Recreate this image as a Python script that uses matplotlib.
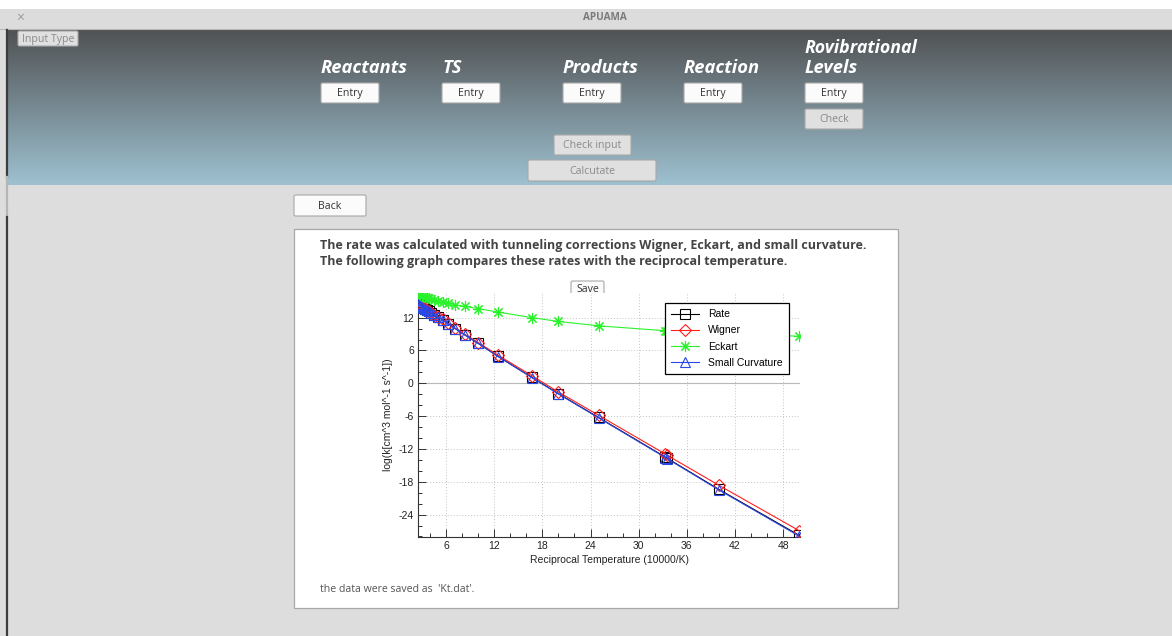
import numpy as np
import matplotlib
matplotlib.use('Agg')
from matplotlib import pyplot as plt
from matplotlib.patches import Rectangle, FancyBboxPatch
from matplotlib.ticker import MultipleLocator

# reciprocal temperature (10000/K)
recip_temp = [2.5, 2.63, 2.78, 2.94, 3.125, 3.33, 3.57, 3.85, 4.17, 4.55, 5.0, 5.56,
              6.25, 7.14, 8.33, 10.0, 12.5, 16.67, 20.0, 25.0, 33.33, 33.54, 40.0, 50.0]
# log k for each method
rate = [14.45, 14.3, 14.15, 14.0, 13.85, 13.65, 13.4, 13.15, 12.85, 12.5, 12.1, 11.6,
        10.9, 10.0, 8.85, 7.3, 4.9, 1.1, -1.9, -6.25, -13.5, -13.7, -19.4, -27.8]
wigner = [14.46, 14.31, 14.16, 14.01, 13.86, 13.66, 13.41, 13.16, 12.87, 12.52, 12.15, 11.66,
          10.97, 10.08, 8.95, 7.45, 5.1, 1.4, -1.6, -5.85, -12.95, -13.15, -18.65, -26.95]
eckart = [16.3, 16.2, 16.1, 16.0, 15.9, 15.8, 15.65, 15.5, 15.35, 15.2, 15.0, 14.8,
          14.6, 14.35, 14.05, 13.65, 13.0, 12.0, 11.3, 10.5, 9.6, 9.58, 9.1, 8.6]
small_curv = [14.44, 14.29, 14.14, 13.99, 13.84, 13.64, 13.39, 13.14, 12.84, 12.49, 12.09, 11.58,
              10.88, 9.98, 8.82, 7.27, 4.86, 1.05, -1.96, -6.32, -13.58, -13.78, -19.5, -27.95]

col_names = ['Reactants', 'TS', 'Products', 'Reaction', 'Levels']

plt.rcParams['axes.unicode_minus'] = False

W, H = 1172, 636
fig = plt.figure(figsize=(W / 100, H / 100), dpi=100)
fig.patch.set_facecolor('#dddddd')

# background "window" drawn in pixel coordinates
bg = fig.add_axes([0, 0, 1, 1], zorder=0)
bg.set_xlim(0, W)
bg.set_ylim(H, 0)
bg.axis('off')

GUI = ['Open Sans', 'DejaVu Sans']

bg.add_patch(Rectangle((0, 0), W, 9, color='white', lw=0))
bg.add_patch(Rectangle((0, 9), W, 20, color='#dcdcdc', lw=0))
bg.plot([0, W], [29, 29], color='#b8b8b8', lw=0.8)
bg.text(20, 18, '×', color='#9a9a9a', fontsize=10, ha='center', va='center', family=GUI)
bg.text(605, 18, 'APUAMA', color='#7a7a7a', fontsize=7.2, fontweight='bold',
        ha='center', va='center', family=GUI)

# header gradient
top = np.array([80, 82, 84]) / 255
bot = np.array([158, 193, 208]) / 255
t = np.linspace(0, 1, 200)[:, None]
grad = (top[None, :] * (1 - t) + bot[None, :] * t)[:, None, :]
bg.imshow(grad, extent=(8, W, 185, 30), aspect='auto', interpolation='bilinear')
bg.set_xlim(0, W)
bg.set_ylim(H, 0)

# left window edge
bg.plot([7, 7], [30, 177], color='#3c3c3c', lw=1.6)
bg.plot([7, 7], [177, 217], color='#b5b5b5', lw=1.6)
bg.plot([7, 7], [217, H], color='#3c3c3c', lw=1.6)


def button(x0, y0, x1, y1, label, enabled=True, fs=7.6):
    fc = '#fbfbfb' if enabled else '#e0e0e0'
    tc = '#333333' if enabled else '#8a8a8a'
    bg.add_patch(FancyBboxPatch((x0, y0), x1 - x0, y1 - y0,
                                boxstyle='round,pad=0,rounding_size=1.5',
                                fc=fc, ec='#a8a8a8', lw=0.8))
    bg.text((x0 + x1) / 2, (y0 + y1) / 2 + 0.8, label, color=tc, fontsize=fs,
            ha='center', va='center', family=GUI)


button(18, 31, 78, 46, 'Input Type', enabled=False)

col_x = [321, 442, 563, 684, 805]
for x, name in zip(col_x, col_names):
    bg.text(x, 73, name, color='white', fontsize=13.2, fontweight='bold', style='italic',
            ha='left', va='baseline', family=GUI)
    button(x, 83, x + 58, 103, 'Entry')
bg.text(805, 53, 'Rovibrational', color='white', fontsize=12.8, fontweight='bold',
        style='italic', ha='left', va='baseline', family=GUI)
button(805, 109, 863, 129, 'Check', enabled=False)
button(554, 135, 631, 155, 'Check input', enabled=False)
button(528, 160, 656, 181, 'Calcutate', enabled=False)

button(294, 195, 366, 216, 'Back')

# white result panel
bg.add_patch(Rectangle((294, 229), 604, 379, fc='white', ec='#a8a8a8', lw=0.9))
bg.text(320, 246, 'The rate was calculated with tunneling corrections Wigner, Eckart, and small curvature.',
        color='#444444', fontsize=9, fontweight='bold', va='center', family=GUI)
bg.text(320, 262, 'The following graph compares these rates with the reciprocal temperature.',
        color='#444444', fontsize=9, fontweight='bold', va='center', family=GUI)
button(571, 281, 604, 297, 'Save')
bg.text(320, 590, "the data were saved as  'Kt.dat'.", color='#555555', fontsize=7.6,
        va='center', family=GUI)

# the plot itself
PF = ['Liberation Sans', 'DejaVu Sans']
ax = fig.add_axes([418 / W, (H - 537) / H, 382 / W, 244 / H], zorder=1)
ax.set_facecolor('white')

ax.axhline(0, color='#b4b4b4', lw=0.8, zorder=1)
ax.grid(True, which='major', color='#c4c4c4', linestyle=(0, (1, 2)), lw=0.7)

ax.plot(recip_temp, rate, color='black', lw=0.8, marker='s', ms=7.5, mfc='none',
        mec='black', mew=0.8, label='Rate', zorder=3)
ax.plot(recip_temp, wigner, color='#ff2020', lw=0.8, marker='D', ms=6, mfc='none',
        mec='#ff2020', mew=0.8, label='Wigner', zorder=3)
ax.plot(recip_temp, eckart, color='#2af22a', lw=0.8, marker=(8, 2, 0), ms=8,
        mec='#2af22a', mew=0.8, label='Eckart', zorder=3)
ax.plot(recip_temp, small_curv, color='#2848e8', lw=0.8, marker='^', ms=7, mfc='none',
        mec='#2848e8', mew=0.8, label='Small Curvature', zorder=4)

ax.set_xlim(2.5, 50.1)
ax.set_ylim(-28.1, 16.5)
ax.xaxis.set_major_locator(MultipleLocator(6))
ax.xaxis.set_minor_locator(MultipleLocator(2))
ax.yaxis.set_major_locator(MultipleLocator(6))
ax.yaxis.set_minor_locator(MultipleLocator(2))
ax.tick_params(which='both', direction='in', color='#333333', width=0.7,
               labelsize=7.5, labelcolor='#222222', pad=3)
ax.tick_params(which='major', length=6)
ax.tick_params(which='minor', length=3)
for lab in ax.get_xticklabels() + ax.get_yticklabels():
    lab.set_family(PF)
for s in ['top', 'right']:
    ax.spines[s].set_visible(False)
for s in ['left', 'bottom']:
    ax.spines[s].set_color('#333333')
    ax.spines[s].set_linewidth(0.8)

ax.set_xlabel('Reciprocal Temperature (10000/K)', fontsize=7.5, family=PF, color='#222222', labelpad=3)
ax.set_ylabel('log(k[cm^3 mol^-1 s^-1])', fontsize=7.5, family=PF, color='#222222', labelpad=4)

leg = ax.legend(loc='upper left', bbox_to_anchor=(665 / W, (H - 303) / H),
                bbox_transform=fig.transFigure, fancybox=False, framealpha=1,
                edgecolor='black', prop={'family': PF, 'size': 7.5}, handlelength=2.7,
                borderpad=0.6, labelspacing=0.6, handletextpad=0.8, borderaxespad=0)
leg.get_frame().set_linewidth(0.9)

fig.savefig('out.png', dpi=100, facecolor=fig.get_facecolor())
